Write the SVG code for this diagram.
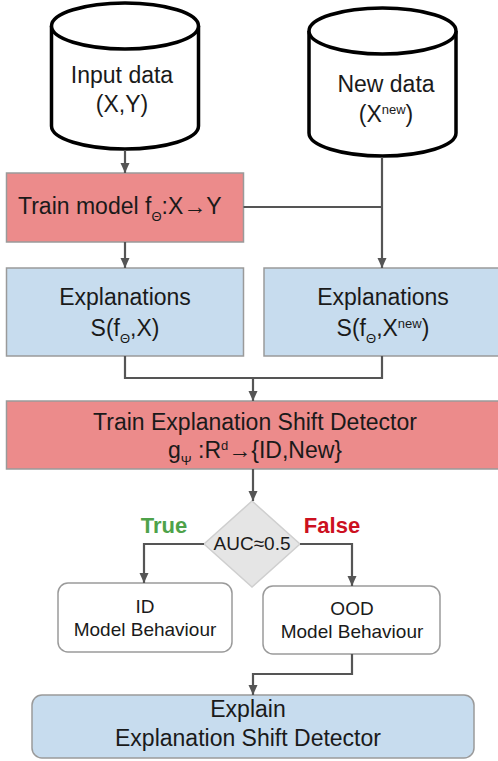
<svg xmlns="http://www.w3.org/2000/svg" width="498" height="761" viewBox="0 0 498 761">
<defs>
<marker id="ah" markerUnits="userSpaceOnUse" markerWidth="10" markerHeight="10" viewBox="0 0 10 10" refX="10" refY="5" orient="auto"><path d="M0,0.5 L10,5 L0,9.5 Z" fill="#555"/></marker>
<style>
.t{font-family:"Liberation Sans",Arial,sans-serif;fill:#1a1a1a;text-anchor:middle}
.cyl{fill:#fff;stroke:#000;stroke-width:3.5}
.red{fill:#ec8b8b;stroke:#9a9a9a;stroke-width:1.5}
.blue{fill:#c7dcee;stroke:#9a9a9a;stroke-width:1.5}
.wht{fill:#fff;stroke:#9a9a9a;stroke-width:1.5}
.c{fill:none;stroke:#555;stroke-width:2.2}
</style>
</defs>
<g id="input-data">
<path class="cyl" d="M51.5,26 A73.5,23 0 0,1 198.5,26 L198.5,126 A73.5,23 0 0,1 51.5,126 Z"/>
<path class="cyl" d="M51.5,26 A73.5,23 0 0,0 198.5,26"/>
<text class="t" x="122" y="83" font-size="23">Input data</text>
<text class="t" x="122" y="112" font-size="23">(X,Y)</text>
</g>
<g id="new-data">
<path class="cyl" d="M309,31 A73.5,23 0 0,1 456,31 L456,133 A73.5,23 0 0,1 309,133 Z"/>
<path class="cyl" d="M309,31 A73.5,23 0 0,0 456,31"/>
<text class="t" x="386" y="92" font-size="23">New data</text>
<text class="t" x="386" y="122" font-size="23">(X<tspan font-size="13" dy="-8">new</tspan><tspan dy="8">)</tspan></text>
</g>
<g id="train-model">
<rect class="red" x="6.5" y="173" width="237" height="69"/>
<text class="t" x="18" y="214" font-size="23" style="text-anchor:start">Train model f<tspan font-size="13" dy="7">Θ</tspan><tspan dy="-7">:X→Y</tspan></text>
</g>
<g id="explanations-x">
<rect class="blue" x="6.5" y="268" width="237" height="88"/>
<text class="t" x="125" y="305" font-size="23">Explanations</text>
<text class="t" x="125" y="336" font-size="23">S(f<tspan font-size="13" dy="7">Θ</tspan><tspan dy="-7">,X)</tspan></text>
</g>
<g id="explanations-xnew">
<rect class="blue" x="264" y="268" width="240" height="88"/>
<text class="t" x="383" y="305" font-size="23">Explanations</text>
<text class="t" x="383" y="336" font-size="23">S(f<tspan font-size="13" dy="7">Θ</tspan><tspan dy="-7">,X</tspan><tspan font-size="13" dy="-8">new</tspan><tspan dy="8">)</tspan></text>
</g>
<g id="train-detector">
<rect class="red" x="6.5" y="401" width="497" height="68"/>
<text class="t" x="255" y="430" font-size="23">Train Explanation Shift Detector</text>
<text class="t" x="255" y="458" font-size="23">g<tspan font-size="13" dy="7">Ψ</tspan><tspan dy="-7"> :R</tspan><tspan font-size="13" dy="-8">d</tspan><tspan dy="8">→{ID,New}</tspan></text>
</g>
<g id="decision">
<path d="M252,501 L300,544 L252,587 L204,544 Z" fill="#e5e5e5" stroke="#cfcfcf" stroke-width="1.5"/>
<text class="t" x="252" y="550" font-size="19">AUC≈0.5</text>
</g>
<g id="id-behaviour">
<rect class="wht" x="58" y="583" width="174" height="69" rx="10"/>
<text class="t" x="145" y="613" font-size="19">ID</text>
<text class="t" x="145" y="636" font-size="19">Model Behaviour</text>
</g>
<g id="ood-behaviour">
<rect class="wht" x="263" y="586" width="177" height="68" rx="10"/>
<text class="t" x="352" y="615" font-size="19">OOD</text>
<text class="t" x="352" y="638" font-size="19">Model Behaviour</text>
</g>
<g id="explain-detector">
<rect class="blue" x="32" y="695" width="442" height="63" rx="10"/>
<text class="t" x="248" y="717" font-size="23">Explain</text>
<text class="t" x="248" y="746" font-size="23">Explanation Shift Detector</text>
</g>
<g id="connectors">
<path class="c" d="M125,150 L125,173" marker-end="url(#ah)"/>
<path class="c" d="M382,157 L382,268" marker-end="url(#ah)"/>
<path class="c" d="M243.5,207 L382,207"/>
<path class="c" d="M125,242 L125,268" marker-end="url(#ah)"/>
<path class="c" d="M125,356 L125,378 L382,378 L382,356"/>
<path class="c" d="M253,378 L253,401" marker-end="url(#ah)"/>
<path class="c" d="M253,469 L253,501" marker-end="url(#ah)"/>
<path class="c" d="M204,544 L144,544 L144,583" marker-end="url(#ah)"/>
<path class="c" d="M300,544 L352,544 L352,586" marker-end="url(#ah)"/>
<path class="c" d="M352,654 L352,674 L253,674 L253,695" marker-end="url(#ah)"/>
<text x="164" y="533" font-family="Liberation Sans,Arial,sans-serif" font-weight="bold" font-size="22" fill="#4ea24a" text-anchor="middle">True</text>
<text x="332" y="533" font-family="Liberation Sans,Arial,sans-serif" font-weight="bold" font-size="22" fill="#cc1020" text-anchor="middle">False</text>
</g>
</svg>
